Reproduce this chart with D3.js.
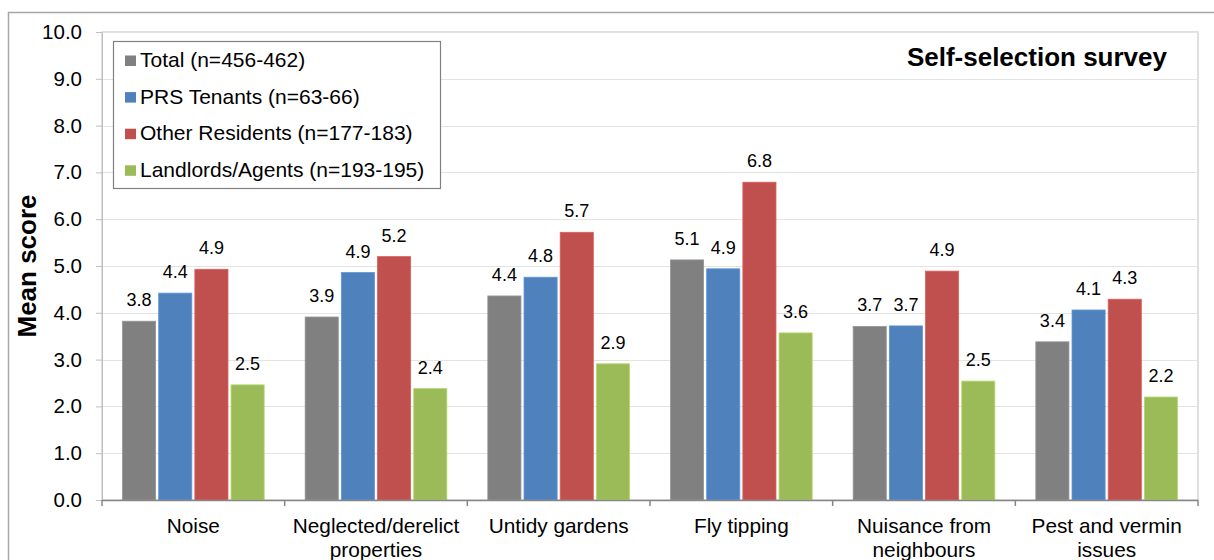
<!DOCTYPE html>
<html>
<head>
<meta charset="utf-8">
<script src="https://cdn.jsdelivr.net/npm/d3@7"></script>
<style>
  html, body { margin: 0; padding: 0; background: #fff; }
  svg { display: block; font-family: "Liberation Sans", Arial, sans-serif; }
</style>
</head>
<body>
<svg id="chart" width="1214" height="560"></svg>
<script>
// Mean scores by issue and respondent group
const categories = ["Noise", "Neglected/derelict properties", "Untidy gardens", "Fly tipping", "Nuisance from neighbours", "Pest and vermin issues"];
const seriesNames = ["Total (n=456-462)", "PRS Tenants (n=63-66)", "Other Residents (n=177-183)", "Landlords/Agents (n=193-195)"];
const totalValues    = [3.82, 3.91, 4.36, 5.13, 3.71, 3.38];
const prsValues      = [4.42, 4.86, 4.76, 4.94, 3.72, 4.06];
const otherValues    = [4.93, 5.20, 5.72, 6.79, 4.89, 4.29];
const landlordValues = [2.46, 2.38, 2.91, 3.57, 2.54, 2.20];
const yTicks = [0, 1, 2, 3, 4, 5, 6, 7, 8, 9, 10];
const colors = ["#808080", "#4f81bd", "#c0504d", "#9bbb59"];
const chartTitle = "Self-selection survey";
const yTitle = "Mean score";

const seriesValues = [totalValues, prsValues, otherValues, landlordValues];

const svg = d3.select("#chart");
const plot = { left: 102, right: 1198, top: 32, bottom: 500 };

// outer frame (runs off the right and bottom edges)
svg.append("path")
  .attr("d", `M8.5,560 V12.5 H1214`)
  .attr("fill", "none").attr("stroke", "#a6a6a6").attr("stroke-width", 1.5);

// plot area border
svg.append("rect")
  .attr("x", plot.left).attr("y", plot.top)
  .attr("width", plot.right - plot.left).attr("height", plot.bottom - plot.top)
  .attr("fill", "none").attr("stroke", "#bfbfbf").attr("stroke-width", 1);

const x = d3.scaleBand().domain(categories).range([plot.left, plot.right]).paddingInner(0).paddingOuter(0);
const y = d3.scaleLinear().domain([0, 10]).range([plot.bottom, plot.top]);

const groupPad = 20.5;
const xs = d3.scaleBand().domain(d3.range(seriesNames.length))
  .range([groupPad, x.bandwidth() - groupPad]).paddingInner(0.085).paddingOuter(0);

// gridlines
svg.append("g").selectAll("line").data(yTicks.filter(t => t > 0)).join("line")
  .attr("x1", plot.left).attr("x2", plot.right)
  .attr("y1", d => Math.round(y(d)) + 0.5).attr("y2", d => Math.round(y(d)) + 0.5)
  .attr("stroke", "#e3e3e3").attr("stroke-width", 1);

// y axis
const yAxis = svg.append("g").attr("transform", `translate(${plot.left},0)`)
  .call(d3.axisLeft(y).tickValues(yTicks).tickFormat(d3.format(".1f")).tickSize(6).tickPadding(14));
yAxis.select(".domain").attr("stroke", "#bfbfbf");
yAxis.selectAll(".tick line").attr("stroke", "#bfbfbf");
yAxis.selectAll(".tick text").attr("font-size", 20.5).attr("fill", "#000")
  .attr("font-family", "Liberation Sans, Arial, sans-serif");

// bars
const groups = svg.append("g").selectAll("g").data(categories).join("g")
  .attr("transform", d => `translate(${x(d)},0)`);

groups.each(function(cat, ci) {
  const g = d3.select(this);
  seriesValues.forEach((vals, si) => {
    const v = vals[ci];
    g.append("rect")
      .attr("x", xs(si)).attr("y", y(v))
      .attr("width", xs.bandwidth()).attr("height", y(0) - y(v))
      .attr("fill", colors[si])
      .attr("stroke", d3.color(colors[si]).brighter(0.4)).attr("stroke-width", 0.8);
    g.append("text")
      .attr("x", xs(si) + xs.bandwidth() / 2).attr("y", y(v) - 15)
      .attr("text-anchor", "middle").attr("font-size", 18).attr("fill", "#000")
      .text(d3.format(".1f")(v));
  });
});

// x axis
const xAxisG = svg.append("g").attr("transform", `translate(0,${plot.bottom})`);
xAxisG.append("line").attr("x1", plot.left).attr("x2", plot.right)
  .attr("y1", 0.5).attr("y2", 0.5).attr("stroke", "#868686").attr("stroke-width", 1.5);
const boundaries = categories.map(c => x(c)).concat([plot.right]);
xAxisG.selectAll("line.tick").data(boundaries).join("line").attr("class", "tick")
  .attr("x1", d => d).attr("x2", d => d).attr("y1", 0).attr("y2", 6)
  .attr("stroke", "#868686").attr("stroke-width", 1.5);

// category labels, wrapped to two lines
const wrapLines = {
  "Neglected/derelict properties": ["Neglected/derelict", "properties"],
  "Nuisance from neighbours": ["Nuisance from", "neighbours"],
  "Pest and vermin issues": ["Pest and vermin", "issues"]
};
categories.forEach(c => {
  const lines = wrapLines[c] || [c];
  const t = svg.append("text").attr("text-anchor", "middle").attr("font-size", 20.8).attr("fill", "#000");
  lines.forEach((ln, i) => {
    t.append("tspan").attr("x", x(c) + x.bandwidth() / 2).attr("y", 533 + i * 23.5).text(ln);
  });
});

// y axis title
svg.append("text")
  .attr("transform", `translate(36,266) rotate(-90)`)
  .attr("text-anchor", "middle").attr("font-size", 26).attr("font-weight", "bold").attr("fill", "#000")
  .text(yTitle);

// chart title
svg.append("text")
  .attr("x", 1167).attr("y", 66).attr("text-anchor", "end")
  .attr("font-size", 26).attr("font-weight", "bold").attr("fill", "#000")
  .text(chartTitle);

// legend
const legend = svg.append("g");
legend.append("rect").attr("x", 113.5).attr("y", 41.5).attr("width", 327).attr("height", 147)
  .attr("fill", "#fff").attr("stroke", "#808080").attr("stroke-width", 1.2);
seriesNames.forEach((name, i) => {
  const base = 67 + i * 36.6;
  legend.append("rect").attr("x", 125).attr("y", base - 11.5).attr("width", 11).attr("height", 10.5)
    .attr("fill", colors[i]);
  legend.append("text").attr("x", 140).attr("y", base)
    .attr("font-size", 21).attr("fill", "#000").text(name);
});
</script>
</body>
</html>
